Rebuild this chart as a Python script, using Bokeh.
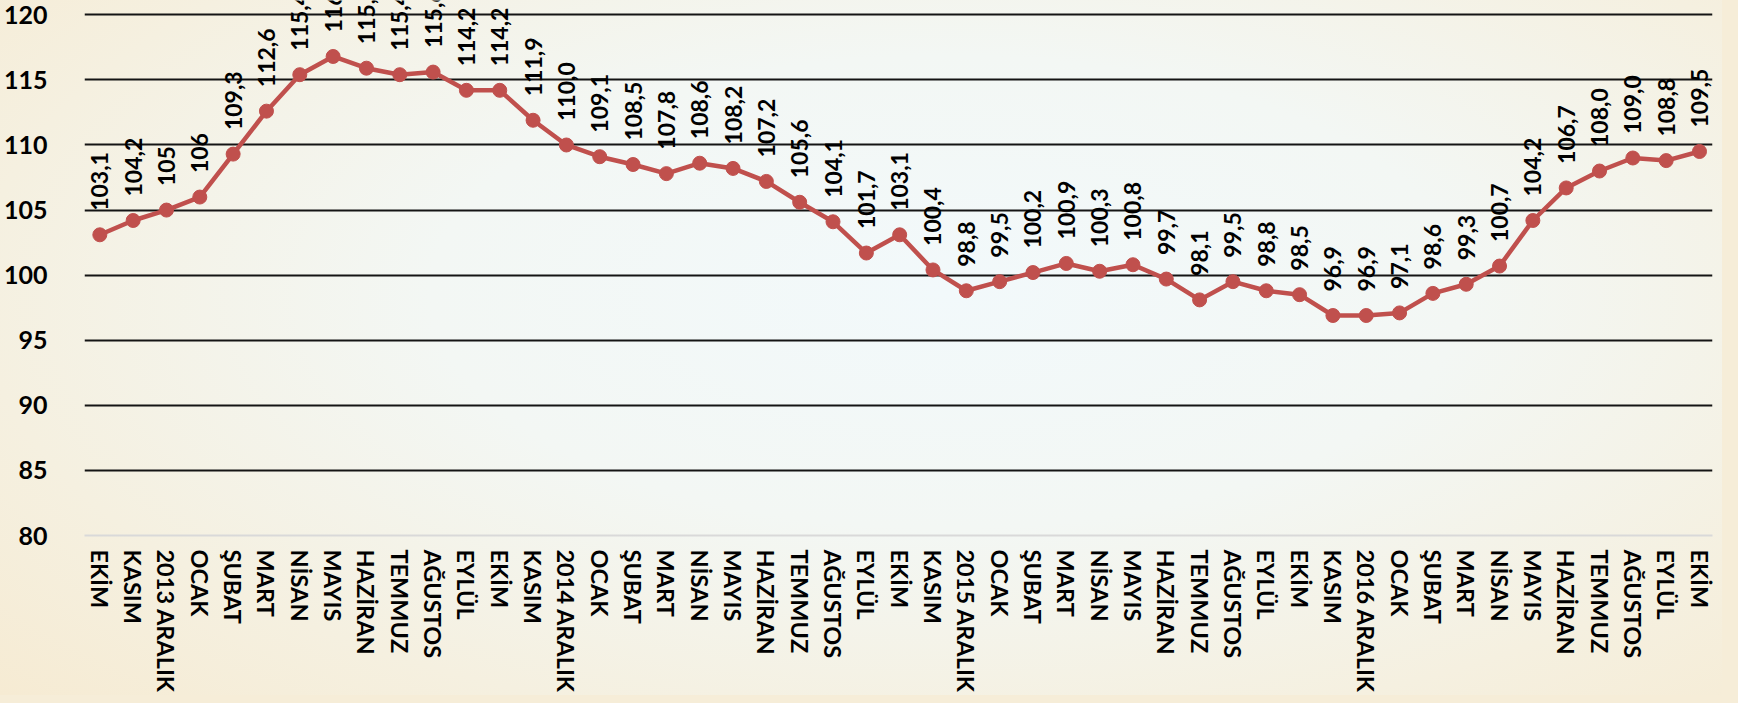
import math
from bokeh.plotting import figure
from bokeh.models import Range1d, FixedTicker, ColumnDataSource, GlobalInlineStyleSheet
from bokeh.core.properties import value
from bokeh.embed import file_html
from bokeh.resources import INLINE

months = ["EKİM", "KASIM", "2013 ARALIK", "OCAK", "ŞUBAT", "MART", "NİSAN", "MAYIS",
          "HAZİRAN", "TEMMUZ", "AĞUSTOS", "EYLÜL", "EKİM", "KASIM", "2014 ARALIK",
          "OCAK", "ŞUBAT", "MART", "NİSAN", "MAYIS", "HAZİRAN", "TEMMUZ", "AĞUSTOS",
          "EYLÜL", "EKİM", "KASIM", "2015 ARALIK", "OCAK", "ŞUBAT", "MART", "NİSAN",
          "MAYIS", "HAZİRAN", "TEMMUZ", "AĞUSTOS", "EYLÜL", "EKİM", "KASIM",
          "2016 ARALIK", "OCAK", "ŞUBAT", "MART", "NİSAN", "MAYIS", "HAZİRAN",
          "TEMMUZ", "AĞUSTOS", "EYLÜL", "EKİM"]

values = [103.1, 104.2, 105.0, 106.0, 109.3, 112.6, 115.4, 116.8, 115.9, 115.4,
          115.6, 114.2, 114.2, 111.9, 110.0, 109.1, 108.5, 107.8, 108.6, 108.2,
          107.2, 105.6, 104.1, 101.7, 103.1, 100.4, 98.8, 99.5, 100.2, 100.9,
          100.3, 100.8, 99.7, 98.1, 99.5, 98.8, 98.5, 96.9, 96.9, 97.1,
          98.6, 99.3, 100.7, 104.2, 106.7, 108.0, 109.0, 108.8, 109.5]

value_labels = ["103,1", "104,2", "105", "106", "109,3", "112,6", "115,4", "116,8",
                "115,9", "115,4", "115,6", "114,2", "114,2", "111,9", "110,0", "109,1",
                "108,5", "107,8", "108,6", "108,2", "107,2", "105,6", "104,1", "101,7",
                "103,1", "100,4", "98,8", "99,5", "100,2", "100,9", "100,3", "100,8",
                "99,7", "98,1", "99,5", "98,8", "98,5", "96,9", "96,9", "97,1",
                "98,6", "99,3", "100,7", "104,2", "106,7", "108,0", "109,0", "108,8",
                "109,5"]

y_ticks = [80, 85, 90, 95, 100, 105, 110, 115, 120]

xs = list(range(len(values)))
src = ColumnDataSource(dict(x=xs, y=values, lab=value_labels))

FONT = "Lato"

p = figure(width=1722, height=695, output_backend="svg", toolbar_location=None,
           x_range=Range1d(-0.46, 48.39), y_range=Range1d(80, 121.1),
           min_border_left=81, min_border_right=10, min_border_top=0,
           min_border_bottom=155, title=None,
           styles={"background": "radial-gradient(ellipse 75% 85% at 55% 42%, #F2F9FB 0%, #F3F7F4 40%, #F5F0E0 75%, #F6EBD3 100%)"})
p.stylesheets = [GlobalInlineStyleSheet(css="body{background:#F6EDD8;}")]
p.background_fill_alpha = 0
p.border_fill_alpha = 0
p.outline_line_color = None

# grid
p.xgrid.visible = False
p.ygrid.ticker = FixedTicker(ticks=y_ticks[1:])
p.ygrid.grid_line_color = "#141414"
p.ygrid.grid_line_width = 2

# y axis
p.yaxis.ticker = FixedTicker(ticks=y_ticks)
p.yaxis.axis_line_color = None
p.yaxis.major_tick_line_color = None
p.yaxis.minor_tick_line_color = None
p.yaxis.major_label_standoff = 31
p.yaxis.major_label_text_font = FONT
p.yaxis.major_label_text_font_style = "bold"
p.yaxis.major_label_text_font_size = "25px"
p.yaxis.major_label_text_color = "#000000"

# x axis
p.xaxis.ticker = FixedTicker(ticks=xs)
p.xaxis.major_label_overrides = {i: m for i, m in enumerate(months)}
p.xaxis.major_label_orientation = "vertical"
p.xaxis.axis_line_color = "#D9D9D9"
p.xaxis.axis_line_width = 2
p.xaxis.major_tick_line_color = None
p.xaxis.minor_tick_line_color = None
p.xaxis.major_tick_out = 0
p.xaxis.major_label_standoff = 14
p.xaxis.major_label_text_font = FONT
p.xaxis.major_label_text_font_style = "bold"
p.xaxis.major_label_text_font_size = "23.5px"
p.xaxis.major_label_text_color = "#000000"

p.line("x", "y", source=src, line_color="#C0504D", line_width=4.5)
p.scatter("x", "y", source=src, size=14, fill_color="#C0504D", line_color="#C0504D")

p.text("x", "y", text="lab", source=src, angle=math.pi / 2, text_align="left",
       text_baseline="middle", y_offset=-24, text_font=value(FONT),
       text_font_style="bold", text_font_size="23px", text_color="#000000")

open("out.html", "w").write(file_html(p, INLINE))
